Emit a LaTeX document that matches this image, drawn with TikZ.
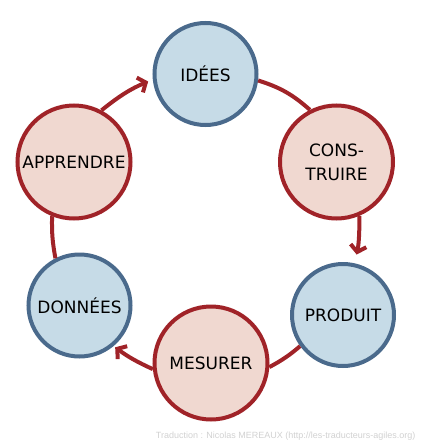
\documentclass[tikz,border=0pt]{standalone}
\usepackage{fontspec}
\setmainfont{DejaVu Sans}
\newfontfamily\creditfont{Liberation Sans}
\usetikzlibrary{arrows.meta}
\definecolor{artefactFill}{HTML}{C6DBE7}
\definecolor{artefactEdge}{HTML}{4A6A8C}
\definecolor{activityFill}{HTML}{F0D8D0}
\definecolor{activityEdge}{HTML}{A02328}
\newcommand{\vStageFont}{\fontsize{17}{24}\selectfont}

\begin{document}
\begin{tikzpicture}[x=1pt, y=1pt,
		artefact/.style={circle, draw=artefactEdge, fill=artefactFill, line width=4pt, minimum size=102pt, inner sep=0pt, font=\vStageFont},
		activity/.style={circle, draw=activityEdge, fill=activityFill, line width=4pt, minimum size=113pt, inner sep=0pt, align=center, font=\vStageFont},
		flow/.style={draw=activityEdge, line width=4pt},
		flowtip/.style={flow, -{Straight Barb[length=6.5pt, width=16pt]}}]
					\useasboundingbox (0,0) rectangle (426,-444);

					\node[artefact] (idees) at (205.5,-74) {IDÉES};
					\node[activity] (construire) at (336.5,-162) {CONS-\\TRUIRE};
					\node[artefact] (produit) at (343,-315) {PRODUIT};
					\node[activity] (mesurer) at (211,-363) {MESURER};
					\node[artefact] (donnees) at (79.5,-305.5) {DONNÉES};
					\node[activity] (apprendre) at (74,-162) {APPRENDRE};

					\draw[flowtip, shorten >=5pt] (apprendre.62) to[bend left=8] (idees.186);
					\draw[flow] (idees.-7) to[bend left=12] (construire.117);
					\draw[flowtip, shorten >=9pt] (construire.-67) to[bend left=6] (produit.77);
					\draw[flow] (produit.216) to[bend left=6] (mesurer.-4);
					\draw[flowtip, shorten >=2pt] (mesurer.186) to[bend left=6] (donnees.-50);
					\draw[flow] (donnees.117) to[bend left=6] (apprendre.248);

					\node[anchor=east, text=black!18, font=\creditfont\fontsize{9}{11}\selectfont] (credit) at (419,-436) {Traduction : Nicolas MEREAUX (http://les-traducteurs-agiles.org)};
				\end{tikzpicture}
\end{document}
